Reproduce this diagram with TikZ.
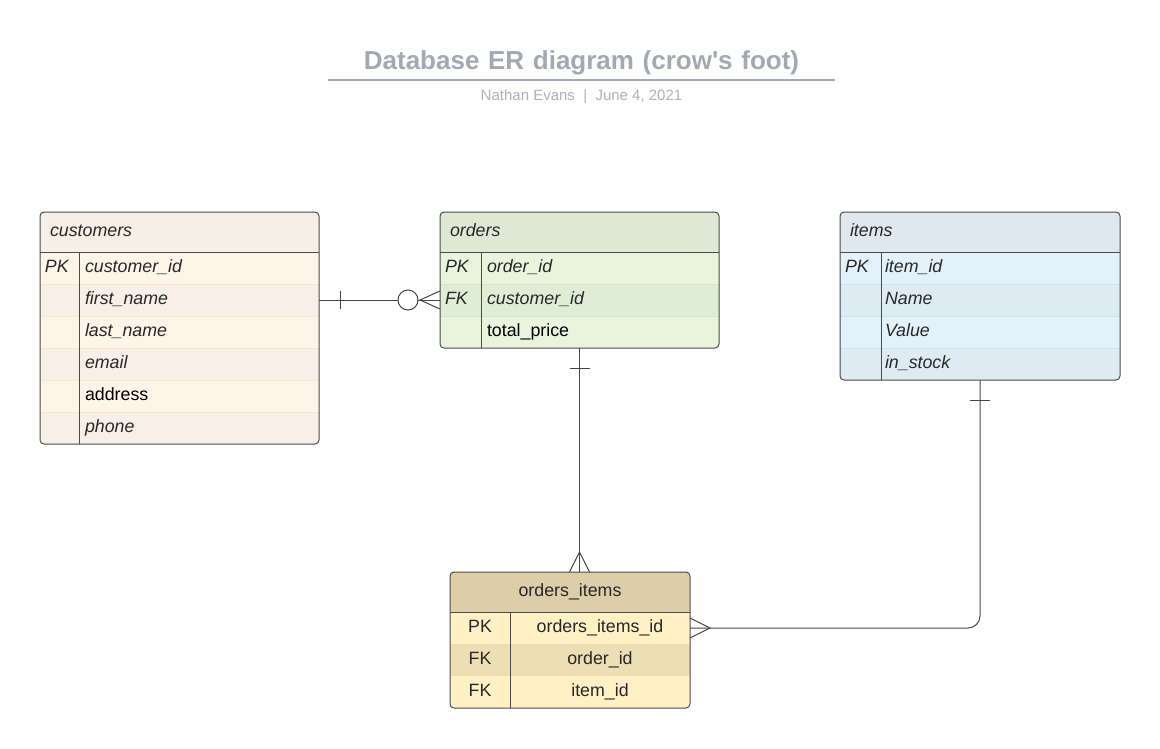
\documentclass[tikz,border=0pt]{standalone}
\usepackage{fontspec}
\setmainfont{Liberation Sans}
\usetikzlibrary{positioning,calc}
\definecolor{titlegray}{RGB}{163,168,178}
\definecolor{subgray}{RGB}{172,177,187}
\definecolor{boxgray}{RGB}{75,75,75}
\definecolor{relgray}{RGB}{70,70,70}
\definecolor{txt}{RGB}{40,40,40}
% customers
\definecolor{custhead}{RGB}{245,239,229}
\definecolor{custrowa}{RGB}{254,245,232}
\definecolor{custrowb}{RGB}{248,240,230}
\definecolor{custline}{RGB}{250,229,207}
% orders
\definecolor{ordhead}{RGB}{222,232,212}
\definecolor{ordrowa}{RGB}{232,245,220}
\definecolor{ordrowb}{RGB}{224,237,214}
\definecolor{ordline}{RGB}{212,232,197}
% items
\definecolor{itmhead}{RGB}{222,232,238}
\definecolor{itmrowa}{RGB}{227,242,250}
\definecolor{itmrowb}{RGB}{222,235,243}
\definecolor{itmline}{RGB}{202,226,241}
% orders_items
\definecolor{oihead}{RGB}{219,206,169}
\definecolor{oirowa}{RGB}{255,241,196}
\definecolor{oirowb}{RGB}{236,223,180}
\def\RowH{32pt}
\def\HeadH{40pt}
\newcommand{\erfont}{\fontsize{17.8}{20}\selectfont}

\begin{document}
\begin{tikzpicture}[x=1pt,y=-1pt,
		every node/.style={outer sep=0pt},
		ttl/.style={anchor=base, inner sep=0pt, text width=507pt, align=center, font=\fontsize{26}{30}\selectfont\bfseries, text=titlegray},
		subttl/.style={anchor=base, inner sep=0pt, font=\fontsize{15}{17}\selectfont, text=subgray},
		head/.style={anchor=north west, minimum height=\HeadH, inner xsep=10pt, inner ysep=0pt, text width=#1, text height=12.5pt, text depth=3.5pt, align=left, font=\erfont\itshape, text=txt},
		field/.style={anchor=north east, minimum height=\RowH, inner xsep=6pt, inner ysep=0pt, text width=#1, text height=12.5pt, text depth=3.5pt, align=left, font=\erfont\itshape, text=txt},
		key/.style={minimum height=\RowH, inner xsep=5pt, inner ysep=0pt, text width=#1, text height=12.5pt, text depth=3.5pt, align=left, font=\erfont\itshape, text=txt},
		tbl/.style={draw=boxgray, line width=1pt, rounded corners=4pt},
		sep/.style={draw=boxgray, line width=1pt},
		rel/.style={draw=relgray, line width=1pt},
	]
	\useasboundingbox (0,0) rectangle (1160,748);
	% title
	\node[ttl] (title) at (581.5,69) {Database ER diagram (crow\textquotesingle s foot)};
	\draw[titlegray, line width=2pt] ($(title.base west)+(0,11)$) -- ($(title.base east)+(0,11)$);
	\node[subttl] (author) at ($(title.base)+(0,31)$) {Nathan Evans\ \ |\ \ June 4, 2021};
	% customers
	\begin{scope}
		\clip[rounded corners=4pt] (40,212) rectangle (319,444);
		\node[head=259pt, fill=custhead, alias=cust-0] (cust) at (40,212) {customers};
		\foreach \k/\f/\c [count=\i, remember=\i as \j (initially 0)] in
			{PK/customer\_id/custrowa, /first\_name/custrowb, /last\_name/custrowa,
			 /email/custrowb, /\upshape\color{black}address/custrowa, /phone/custrowb}{
			\node[field=228pt, fill=\c, draw=custline] (cust-\i) at (cust-\j.south east) {\f};
			\node[key=29pt, fill=\c, draw=custline, left=0pt of cust-\i] (cust-k\i) {\k};
		}
	\end{scope}
	\draw[tbl] (cust.north west) rectangle (cust-6.south east);
	\draw[sep] (cust.south west) -- (cust.south east);
	\draw[sep] (cust-1.north west) -- (cust-6.south west);
	% orders
	\begin{scope}
		\clip[rounded corners=4pt] (440,212) rectangle (719,348);
		\node[head=259pt, fill=ordhead, alias=ord-0] (ord) at (440,212) {orders};
		\foreach \k/\f/\c [count=\i, remember=\i as \j (initially 0)] in
			{PK/order\_id/ordrowa, FK/customer\_id/ordrowb, /\upshape\color{black}total\_price/ordrowa}{
			\node[field=226pt, fill=\c, draw=ordline] (ord-\i) at (ord-\j.south east) {\f};
			\node[key=31pt, fill=\c, draw=ordline, left=0pt of ord-\i] (ord-k\i) {\k};
		}
	\end{scope}
	\draw[tbl] (ord.north west) rectangle (ord-3.south east);
	\draw[sep] (ord.south west) -- (ord.south east);
	\draw[sep] (ord-1.north west) -- (ord-3.south west);
	% items
	\begin{scope}
		\clip[rounded corners=4pt] (840,212) rectangle (1120,380);
		\node[head=260pt, fill=itmhead, alias=itm-0] (itm) at (840,212) {items};
		\foreach \k/\f/\c [count=\i, remember=\i as \j (initially 0)] in
			{PK/item\_id/itmrowa, /Name/itmrowb, /Value/itmrowa, /in\_stock/itmrowb}{
			\node[field=231pt, inner xsep=4pt, fill=\c, draw=itmline] (itm-\i) at (itm-\j.south east) {\f};
			\node[key=31pt, fill=\c, draw=itmline, left=0pt of itm-\i] (itm-k\i) {\k};
		}
	\end{scope}
	\draw[tbl] (itm.north west) rectangle (itm-4.south east);
	\draw[sep] (itm.south west) -- (itm.south east);
	\draw[sep] (itm-1.north west) -- (itm-4.south west);
	% orders_items
	\begin{scope}
		\clip[rounded corners=4pt] (450,572) rectangle (690,708);
		\node[head=220pt, fill=oihead, align=center, font=\erfont, alias=oi-0] (oi) at (450,572) {orders\_items};
		\foreach \k/\f/\c [count=\i, remember=\i as \j (initially 0)] in
			{PK/orders\_items\_id/oirowa, FK/order\_id/oirowb, FK/item\_id/oirowa}{
			\node[field=168pt, fill=\c, align=center, font=\erfont] (oi-\i) at (oi-\j.south east) {\f};
			\node[key=50pt, fill=\c, align=center, font=\erfont, left=0pt of oi-\i] (oi-k\i) {\k};
		}
	\end{scope}
	\draw[tbl] (oi.north west) rectangle (oi-3.south east);
	\draw[sep] (oi.south west) -- (oi.south east);
	\draw[sep] (oi-1.north west) -- (oi-3.south west);
	% customers -- orders
	\draw[rel] (cust-2.east) -- (ord-k2.west);
	\draw[rel] ($(cust-2.east)+(21,-9)$) -- ($(cust-2.east)+(21,9)$);
	\draw[rel, fill=white] ($(ord-k2.west)+(-32,0)$) circle (10pt);
	\draw[rel] ($(ord-k2.west)+(0,-9)$) -- ($(ord-k2.west)+(-20,0)$) -- ($(ord-k2.west)+(0,9)$);
	% orders -- orders_items
	\coordinate (ordbot) at (ord.center |- ord-3.south);
	\coordinate (oitop) at (ord.center |- oi.north);
	\draw[rel] (ordbot) -- (oitop);
	\draw[rel] ($(ordbot)+(-10,20)$) -- ($(ordbot)+(10,20)$);
	\draw[rel] ($(oitop)+(-10,0)$) -- ($(oitop)+(0,-20)$) -- ($(oitop)+(10,0)$);
	% items -- orders_items
	\coordinate (itmbot) at (itm.center |- itm-4.south);
	\draw[rel, rounded corners=12pt] (itmbot) |- (oi-1.east);
	\draw[rel] ($(itmbot)+(-10,20)$) -- ($(itmbot)+(10,20)$);
	\draw[rel] ($(oi-1.east)+(0,-10)$) -- ($(oi-1.east)+(20,0)$) -- ($(oi-1.east)+(0,10)$);
\end{tikzpicture}
\end{document}
